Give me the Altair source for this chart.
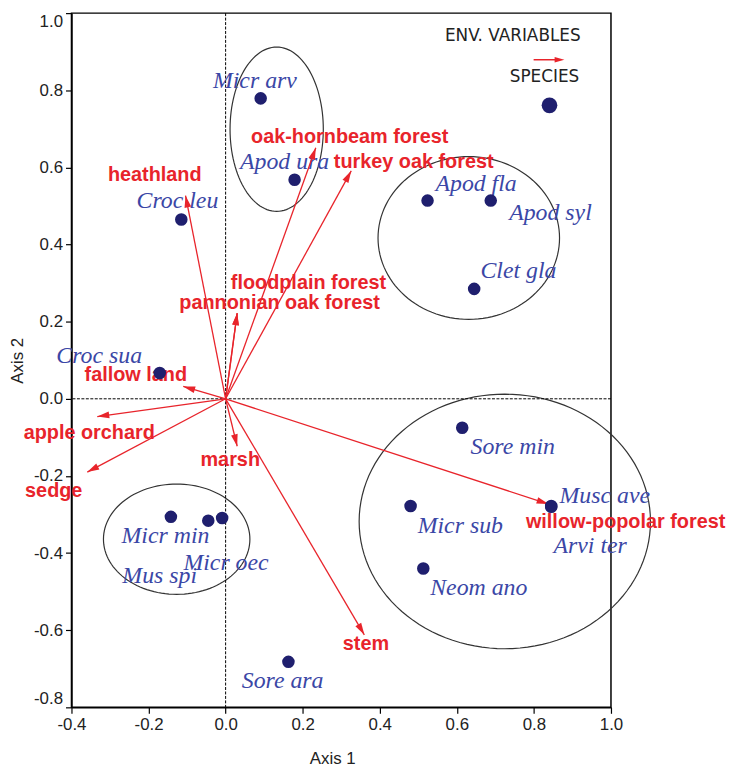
import numpy as np
import pandas as pd
import altair as alt

# ---------------- data ----------------
sp_names = ["Micr arv", "Apod ura", "Croc leu", "Apod fla", "Apod syl", "Clet gla",
            "Croc sua", "Sore min", "Musc ave", "Arvi ter", "Micr sub", "Neom ano",
            "Micr min", "Micr oec", "Mus spi", "Sore ara"]
sp_x = [0.091, 0.179, -0.115, 0.524, 0.688, 0.645, -0.171, 0.614, 0.845, 0.845,
        0.480, 0.513, -0.142, -0.009, -0.045, 0.163]
sp_y = [0.779, 0.568, 0.465, 0.514, 0.514, 0.285, 0.067, -0.075, -0.278, -0.280,
        -0.278, -0.440, -0.306, -0.309, -0.316, -0.682]
sp_lx = [0.076, 0.153, -0.125, 0.650, 0.843, 0.760, -0.328, 0.745, 0.984, 0.946,
         0.609, 0.657, -0.156, 0.001, -0.171, 0.148]
sp_ly = [0.825, 0.615, 0.512, 0.558, 0.481, 0.332, 0.111, -0.126, -0.252, -0.381,
         -0.329, -0.491, -0.357, -0.427, -0.460, -0.733]

env_names = ["heathland", "oak-hornbeam forest", "turkey oak forest", "floodplain forest",
             "pannonian oak forest", "fallow land", "apple orchard", "sedge", "marsh",
             "stem", "willow-popolar forest"]
env_x = [-0.104, 0.234, 0.326, 0.030, 0.030, -0.110, -0.333, -0.359, 0.030, 0.360, 0.838]
env_y = [0.527, 0.651, 0.591, 0.222, 0.222, 0.032, -0.046, -0.190, -0.123, -0.612, -0.273]
env_lx = [-0.184, 0.322, 0.488, 0.215, 0.140, -0.233, -0.354, -0.446, 0.012, 0.364, 1.038]
env_ly = [0.579, 0.679, 0.615, 0.301, 0.249, 0.062, -0.090, -0.239, -0.159, -0.635, -0.319]

ell_cx = [0.1325, 0.631, 0.7245, -0.127]
ell_cy = [0.699, 0.417, -0.318, -0.364]
ell_rx = [0.121, 0.2355, 0.378, 0.190]
ell_ry = [0.213, 0.211, 0.330, 0.143]

x_ticks = [-0.4, -0.2, 0.0, 0.2, 0.4, 0.6, 0.8, 1.0]
y_ticks = [-0.8, -0.6, -0.4, -0.2, 0.0, 0.2, 0.4, 0.6, 0.8, 1.0]

# ---------------- tables ----------------
species = pd.DataFrame({"name": sp_names, "x": sp_x, "y": sp_y, "lx": sp_lx, "ly": sp_ly})
env = pd.DataFrame({"name": env_names, "x": env_x, "y": env_y, "lx": env_lx, "ly": env_ly})
env["x0"] = 0.0
env["y0"] = 0.0
env["angle"] = np.mod(np.degrees(np.arctan2(env["x"], env["y"])), 360)

rows = []
t = np.linspace(0, 2 * np.pi, 121)
for i, (cx, cy, rx, ry) in enumerate(zip(ell_cx, ell_cy, ell_rx, ell_ry)):
    for k, tt in enumerate(t):
        rows.append({"g": i, "k": k, "x": cx + rx * np.cos(tt), "y": cy + ry * np.sin(tt)})
ellipses = pd.DataFrame(rows)
zero = pd.DataFrame({"v": [0.0]})
one = pd.DataFrame({"k": [0]})

# ---------------- styling ----------------
RED = "#e8242b"
BLUE = "#3b47a6"
NAVY = "#1f1f6e"
SANS = "Liberation Sans"
SERIF = "Liberation Serif"
ARROW = "M0,0L-0.62,2.2L0.62,2.2Z"

xs = alt.Scale(domain=[-0.4, 1.0], nice=False, zero=False)
ys = alt.Scale(domain=[-0.8, 1.0], nice=False, zero=False)
common_axis = dict(grid=False, format=".1f", tickSize=6, tickWidth=1.2, tickColor="black",
                   domainColor="black", domainWidth=1.5, labelPadding=3,
                   labelFont=SANS, labelFontSize=17, labelColor="#222",
                   titleFont=SANS, titleFontSize=17, titleFontWeight="normal",
                   titleColor="#222",
                   labelExpr="replace(datum.label, '\u2212', '-')")
xaxis = alt.Axis(values=x_ticks, title="Axis 1", titlePadding=19, titleX=263,
                 labelFlush=False, **common_axis)
yaxis = alt.Axis(values=y_ticks, title="Axis 2", titlePadding=7,
                 labelFlush=True, **common_axis)


def X(f):
    return alt.X(f, type="quantitative", scale=xs, axis=xaxis)


def Y(f):
    return alt.Y(f, type="quantitative", scale=ys, axis=yaxis)


ell_layer = alt.Chart(ellipses).mark_line(color="#333", strokeWidth=1.2).encode(
    x=X("x"), y=Y("y"), detail="g:N", order="k:Q")

vzero = alt.Chart(zero).mark_rule(color="black", strokeWidth=1, strokeDash=[3, 1.5]).encode(x=X("v"))
hzero = alt.Chart(zero).mark_rule(color="black", strokeWidth=1, strokeDash=[3, 1.5]).encode(y=Y("v"))

sp_text = alt.Chart(species).mark_text(font=SERIF, fontStyle="italic", fontSize=24,
                                       color=BLUE, align="center", baseline="middle").encode(
    x=X("lx"), y=Y("ly"), text="name:N")

env_text = alt.Chart(env).mark_text(font=SANS, fontWeight="bold", fontSize=20,
                                    color=RED, align="center", baseline="middle").encode(
    x=X("lx"), y=Y("ly"), text="name:N")

arrows = alt.Chart(env).mark_rule(color=RED, strokeWidth=1.3).encode(
    x=X("x0"), y=Y("y0"), x2="x", y2="y")

heads = alt.Chart(env).mark_point(shape=ARROW, filled=True, size=120, color=RED, opacity=1).encode(
    x=X("x"), y=Y("y"), angle=alt.Angle("angle:Q", scale=None))

dots = alt.Chart(species).mark_point(shape="circle", filled=True, size=160, color=NAVY, opacity=1).encode(
    x=X("x"), y=Y("y"))

# legend (drawn in plot-pixel coordinates)
leg_t1 = alt.Chart(one).mark_text(text="ENV. VARIABLES", font="DejaVu Sans", fontSize=17,
                                  color="#222", align="center", baseline="middle").encode(
    x=alt.value(445), y=alt.value(23))
leg_line = alt.Chart(one).mark_rule(color=RED, strokeWidth=1.5).encode(
    x=alt.value(466), x2=alt.value(488), y=alt.value(47))
leg_head = alt.Chart(one).mark_point(shape=ARROW, filled=True, size=80, color=RED, opacity=1).encode(
    x=alt.value(497), y=alt.value(47), angle=alt.value(90))
leg_t2 = alt.Chart(one).mark_text(text="SPECIES", font="DejaVu Sans", fontSize=17,
                                  color="#222", align="center", baseline="middle").encode(
    x=alt.value(477), y=alt.value(64))
leg_dot = alt.Chart(one).mark_point(shape="circle", filled=True, size=250, color=NAVY, opacity=1).encode(
    x=alt.value(482), y=alt.value(93))

chart = alt.layer(
    ell_layer, vzero, hzero, sp_text, env_text, arrows, heads, dots,
    leg_t1, leg_line, leg_head, leg_t2, leg_dot
).properties(
    width=544, height=700,
    autosize=alt.AutoSizeParams(type="none"),
    padding={"left": 64, "top": 2, "right": 118, "bottom": 59},
).configure_view(
    stroke="black", strokeWidth=1.5
)

chart.save("out.html", embed_options={"renderer": "svg", "actions": False})
